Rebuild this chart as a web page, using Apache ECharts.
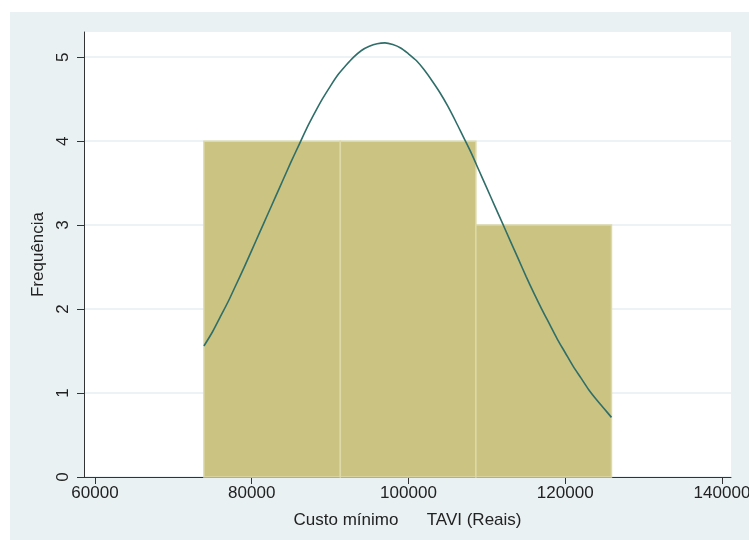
<!DOCTYPE html>
<html>
<head>
<meta charset="utf-8">
<script src="https://cdn.jsdelivr.net/npm/echarts@6/dist/echarts.min.js"></script>
<style>html,body{margin:0;padding:0;background:#fff}#c{width:749px;height:540px}</style>
</head>
<body>
<div id="c"></div>
<script>
// Histogram bins (Custo mínimo TAVI, Reais)
var binStart = [73900, 91300, 108600];
var binEnd = [91300, 108600, 125900];
var binCount = [4, 4, 3];
// Normal curve overlay
var curveX = [73900, 75000, 76000, 77000, 78000, 79000, 80000, 81000, 82000, 83000, 84000, 85000, 86000, 87000, 88000, 89000, 90000, 91000, 92000, 93000, 94000, 95000, 96000, 97000, 98000, 99000, 100000, 101000, 102000, 103000, 104000, 105000, 106000, 107000, 108000, 109000, 110000, 111000, 112000, 113000, 114000, 115000, 116000, 117000, 118000, 119000, 120000, 121000, 122000, 123000, 124000, 125000, 125900];
var curveY = [1.56, 1.73, 1.91, 2.09, 2.29, 2.49, 2.70, 2.91, 3.12, 3.33, 3.54, 3.75, 3.95, 4.15, 4.33, 4.50, 4.65, 4.79, 4.90, 5.00, 5.08, 5.13, 5.16, 5.17, 5.15, 5.11, 5.04, 4.96, 4.85, 4.72, 4.58, 4.42, 4.24, 4.05, 3.86, 3.65, 3.44, 3.23, 3.02, 2.81, 2.60, 2.39, 2.19, 2.00, 1.82, 1.64, 1.48, 1.32, 1.18, 1.04, 0.92, 0.81, 0.71];
var xTicks = [60000, 80000, 100000, 120000, 140000];
var yTicks = [0, 1, 2, 3, 4, 5];

var chart = echarts.init(document.getElementById('c'));
var bars = binStart.map(function (s, i) { return [s, binEnd[i], binCount[i]]; });
var curve = curveX.map(function (x, i) { return [x, curveY[i]]; });
var font = 'Liberation Sans, Arial, sans-serif';

chart.setOption({
  backgroundColor: '#ffffff',
  animation: false,
  graphic: [{
    type: 'rect', z: -10, silent: true,
    shape: { x: 10, y: 12, width: 739, height: 528 },
    style: { fill: '#eaf1f3' }
  }],
  grid: {
    left: 84, right: 18, top: 32, bottom: 63,
    outerBoundsMode: 'none', containLabel: false,
    show: true, backgroundColor: '#ffffff', borderWidth: 0
  },
  xAxis: {
    type: 'value', min: 58600, max: 141150,
    name: 'Custo mínimo      TAVI (Reais)',
    nameLocation: 'middle', nameGap: 35,
    nameTextStyle: { fontFamily: font, fontSize: 17, color: '#222' },
    axisLine: { show: true, onZero: false, lineStyle: { color: '#333', width: 1 } },
    axisTick: { show: true, length: 7, customValues: xTicks, lineStyle: { color: '#333' } },
    axisLabel: { customValues: xTicks, formatter: function (v) { return String(v); }, fontFamily: font, fontSize: 17, color: '#222', margin: 8, hideOverlap: false },
    splitLine: { show: false }
  },
  yAxis: {
    type: 'value', min: 0, max: 5.3,
    name: 'Frequência',
    nameLocation: 'middle', nameGap: 37,
    nameTextStyle: { fontFamily: font, fontSize: 17, color: '#222' },
    axisLine: { show: true, lineStyle: { color: '#333', width: 1 } },
    axisTick: { show: true, length: 7, customValues: yTicks, lineStyle: { color: '#333' } },
    axisLabel: { customValues: yTicks, rotate: 90, fontFamily: font, fontSize: 17, color: '#222', margin: 12 },
    splitLine: { show: true, lineStyle: { color: '#edf2f4', width: 2 } }
  },
  series: [{
    type: 'custom',
    data: bars,
    encode: { x: [0, 1], y: 2 },
    renderItem: function (params, api) {
      var p0 = api.coord([api.value(0), api.value(2)]);
      var p1 = api.coord([api.value(1), 0]);
      return {
        type: 'rect',
        shape: { x: p0[0], y: p0[1], width: p1[0] - p0[0], height: p1[1] - p0[1] },
        style: { fill: '#cac381', stroke: '#ddd9a8', lineWidth: 1.5 }
      };
    },
    z: 2
  }, {
    type: 'line',
    data: curve,
    smooth: 0.3,
    showSymbol: false,
    lineStyle: { color: '#2f6e69', width: 1.6 },
    z: 3
  }]
});
</script>
</body>
</html>
